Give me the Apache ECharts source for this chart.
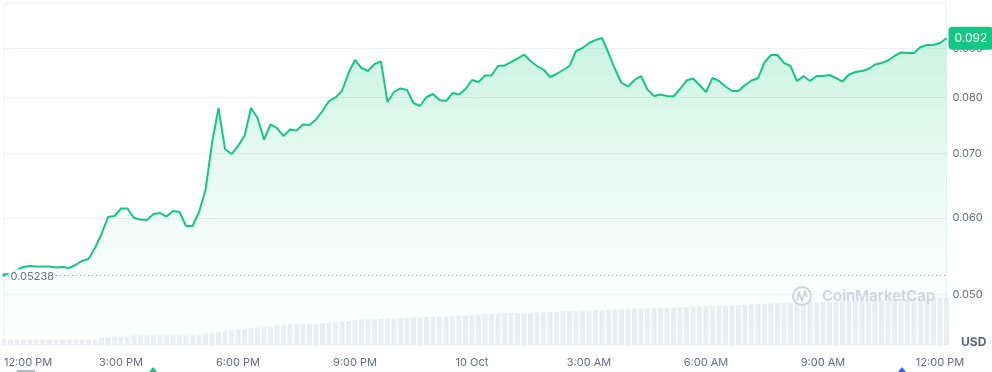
<!DOCTYPE html>
<html><head><meta charset="utf-8">
<script src="https://cdn.jsdelivr.net/npm/echarts@6/dist/echarts.min.js"></script>
<style>html,body{margin:0;padding:0;background:#fff}#c{width:992px;height:372px}</style>
</head><body><div id="c"></div>
<script>
// sampling step of the series (minutes), starting 9 Oct 12:00 PM
const sampleMinutes = 10;

// price in USD
const price = [
0.05238,0.05261,0.05299,0.05337,0.05350,0.05343,0.05343,0.05343,0.05331,0.05337,
0.05324,0.05363,0.05414,0.05440,0.05585,0.05775,0.06014,0.06029,0.06138,0.06138,
0.06000,0.05978,0.05971,0.06057,0.06072,0.06021,0.06101,0.06086,0.05886,0.05886,
0.06086,0.06415,0.07177,0.07803,0.07075,0.06991,0.07126,0.07298,0.07803,0.07619,
0.07238,0.07502,0.07439,0.07298,0.07413,0.07395,0.07502,0.07493,0.07592,0.07748,
0.07935,0.08002,0.08127,0.08484,0.08752,0.08586,0.08525,0.08668,0.08720,0.07916,
0.08108,0.08176,0.08146,0.07897,0.07841,0.08011,0.08069,0.07954,0.07935,0.08088,
0.08059,0.08166,0.08343,0.08304,0.08433,0.08433,0.08627,0.08637,0.08710,0.08783,
0.08867,0.08731,0.08627,0.08555,0.08403,0.08464,0.08545,0.08627,0.08942,0.09006,
0.09114,0.09180,0.09224,0.08899,0.08565,0.08284,0.08215,0.08343,0.08423,0.08156,
0.08030,0.08059,0.08030,0.08021,0.08166,0.08333,0.08373,0.08244,0.08108,0.08383,
0.08323,0.08215,0.08127,0.08127,0.08244,0.08333,0.08383,0.08700,0.08857,0.08857,
0.08689,0.08627,0.08323,0.08423,0.08323,0.08423,0.08423,0.08444,0.08383,0.08313,
0.08454,0.08504,0.08525,0.08565,0.08658,0.08689,0.08741,0.08836,0.08910,0.08899,
0.08899,0.09028,0.09071,0.09071,0.09114,0.0922
];

// volume in millions USD
const volume = [
0.57,0.57,0.57,0.57,0.57,0.57,0.57,0.57,0.57,0.57,
0.57,0.57,0.57,0.57,0.57,0.74,0.84,0.84,0.84,0.84,
0.97,0.97,0.97,0.97,0.97,0.97,0.97,0.97,0.97,1.02,
1.07,1.15,1.22,1.32,1.40,1.47,1.53,1.63,1.72,1.77,
1.83,1.88,1.97,2.03,2.10,2.10,2.10,2.12,2.14,2.17,
2.20,2.27,2.33,2.40,2.47,2.57,2.57,2.57,2.60,2.64,
2.64,2.70,2.74,2.74,2.74,2.80,2.84,2.84,2.84,2.92,
2.97,2.97,3.04,3.07,3.10,3.10,3.14,3.17,3.20,3.20,
3.22,3.24,3.26,3.30,3.34,3.34,3.38,3.40,3.44,3.45,
3.47,3.50,3.50,3.53,3.57,3.57,3.61,3.64,3.64,3.67,
3.69,3.70,3.72,3.74,3.77,3.80,3.83,3.84,3.87,3.90,
3.93,3.94,3.97,4.00,4.04,4.07,4.12,4.14,4.17,4.21,
4.24,4.24,4.25,4.27,4.28,4.30,4.30,4.30,4.31,4.35,
4.39,4.40,4.43,4.45,4.47,4.50,4.51,4.54,4.55,4.58,
4.62,4.65,4.68,4.71,4.74,4.74
];

const openPrice = 0.05238;
const yTickValues = [0.05, 0.06, 0.07, 0.08, 0.09];
const yTickLabels = ['0.050', '0.060', '0.070', '0.080', '0.090'];
const xTickHours = 3;
const xTickLabels = ['12:00 PM', '3:00 PM', '6:00 PM', '9:00 PM', '10 Oct', '3:00 AM', '6:00 AM', '9:00 AM', '12:00 PM'];

const stepH = sampleMinutes / 60;
const xMax = (price.length - 1) * stepH;
const priceData = price.map((p, i) => [i * stepH, p]);
const volumeData = volume.map((v, i) => [i * stepH, v]);

const FONT = 'Inter';
const LABEL = '#616e85';
const GRIDC = '#eceff3';

const gridLines = yTickValues.map((v, i) => [
  {coord: [0, v], label: {formatter: yTickLabels[i]}},
  {coord: [xMax, v]}
]);
const openLine = [
  {coord: [0, openPrice], label: {show: false}, lineStyle: {color: '#8f98a8', type: [1, 3], width: 1}},
  {coord: [xMax, openPrice]}
];

const chart = echarts.init(document.getElementById('c'), null, {renderer: 'canvas'});
chart.setOption({
  animation: false,
  backgroundColor: '#fff',
  textStyle: {fontFamily: FONT},
  grid: {left: 4, right: 45.5, top: 3, bottom: 27, show: true, borderColor: GRIDC, borderWidth: 1, backgroundColor: 'transparent'},
  xAxis: {
    type: 'value', min: 0, max: xMax, interval: xTickHours,
    axisLine: {show: false}, axisTick: {show: false}, splitLine: {show: false},
    axisLabel: {
      color: LABEL, fontSize: 11, fontFamily: FONT, margin: 12,
      alignMinLabel: 'left',
      formatter: v => (Math.abs(v / xTickHours - Math.round(v / xTickHours)) < 1e-6 ? (xTickLabels[Math.round(v / xTickHours)] || '') : '')
    }
  },
  yAxis: [
    {type: 'log', logBase: 10, min: 0.044296, max: 0.100287,
     axisLine: {show: false}, axisTick: {show: false}, axisLabel: {show: false}, splitLine: {show: false}},
    {type: 'value', min: 0, max: 34.2, show: false, splitLine: {show: false}}
  ],
  series: [
    {
      type: 'bar', yAxisIndex: 1, data: volumeData, barWidth: 5, silent: true, z: 1,
      itemStyle: {color: '#eceef2'}
    },
    {
      type: 'line', yAxisIndex: 0, data: priceData, symbol: 'none', silent: true, z: 3,
      lineStyle: {color: '#16c784', width: 2},
      areaStyle: {
        origin: 'start',
        color: new echarts.graphic.LinearGradient(0, 0, 0, 1, [
          {offset: 0, color: 'rgba(22,199,132,0.32)'},
          {offset: 0.4, color: 'rgba(22,199,132,0.15)'},
          {offset: 0.75, color: 'rgba(22,199,132,0.04)'},
          {offset: 1, color: 'rgba(22,199,132,0)'}
        ])
      },
      endLabel: {
        show: true, distance: 2,
        formatter: p => p.value[1].toFixed(3),
        color: '#fff', fontSize: 12, fontFamily: FONT, lineHeight: 13,
        backgroundColor: '#16c784', borderRadius: 4, padding: [5, 6]
      },
      markLine: {
        silent: true, z: 1, symbol: ['none', 'none'], animation: false,
        label: {show: true, position: 'end', distance: 6, color: LABEL, fontSize: 11, fontFamily: FONT},
        lineStyle: {color: GRIDC, width: 1, type: 'solid'},
        emphasis: {disabled: true},
        data: gridLines.concat([openLine])
      },
      markPoint: {
        silent: true, z: 6, animation: false,
        data: [{coord: [0, openPrice], symbol: 'rect', symbolSize: 3, itemStyle: {color: '#16c784'},
          label: {show: true, position: 'right', distance: 3, offset: [0, 2], formatter: String(openPrice),
            color: LABEL, fontSize: 11, fontFamily: FONT, backgroundColor: 'rgba(255,255,255,0.85)', padding: [2, 2]}}]
      }
    }
  ],
  graphic: [
    {type: 'text', x: 961, y: 342, z: 10, style: {text: 'USD', fontFamily: FONT, fontWeight: 'bold', fontSize: 12, fill: '#58667e', verticalAlign: 'middle', align: 'left'}},
    {type: 'circle', z: 10, shape: {cx: 802, cy: 296, r: 9}, style: {fill: 'none', stroke: '#cfd3db', lineWidth: 2}},
    {type: 'polyline', z: 10, shape: {points: [[797, 301], [799, 293], [802, 300], [805, 292], [807, 297]]}, style: {fill: 'none', stroke: '#cfd3db', lineWidth: 2}},
    {type: 'text', x: 822, y: 296, z: 10, style: {text: 'CoinMarketCap', fontFamily: FONT, fontWeight: 600, fontSize: 15, fill: '#cfd3db', verticalAlign: 'middle', align: 'left'}},
    {type: 'rect', z: 10, shape: {x: 17, y: 370, width: 18, height: 2}, style: {fill: '#b4bac8'}},
    {type: 'polygon', z: 10, shape: {points: [[149, 372], [153, 367], [157, 372]]}, style: {fill: '#16c784'}},
    {type: 'polygon', z: 10, shape: {points: [[898, 372], [902, 367], [906, 372]]}, style: {fill: '#3861fb'}}
  ]
});
</script>
</body></html>
